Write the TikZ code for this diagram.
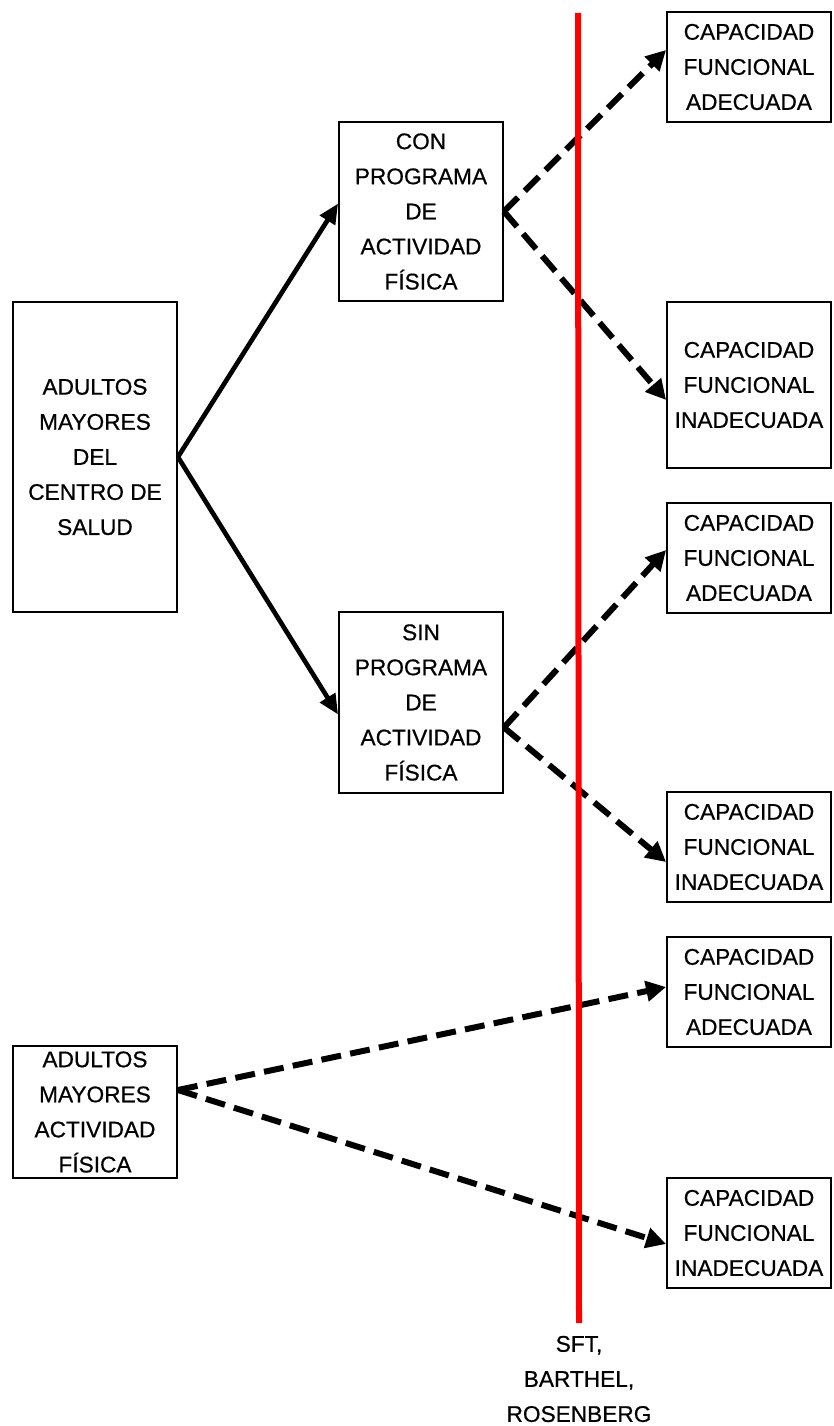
\documentclass[tikz,border=0pt]{standalone}
\usepackage{fontspec}
\setmainfont{Liberation Sans}[FakeBold=0.6]
\usetikzlibrary{arrows.meta,calc}
\begin{document}
\begin{tikzpicture}[x=0.75pt,y=-0.75pt,
  txt/.style={align=center,inner sep=0pt,font=\fontsize{17}{26.3}\selectfont},
  box/.style={txt,draw=black,line width=1.4pt,minimum width=123pt},
  solidarrow/.style={line width=3.5pt,-{Triangle[length=15pt,width=13pt]}},
  dasharrow/.style={line width=4.5pt,dash pattern=on 15pt off 7pt,-{Triangle[length=15pt,width=15pt]}},
  redline/.style={draw=red,line width=4.5pt}]
\useasboundingbox (0,0) rectangle (833,1426);

% left boxes
\node[box,minimum height=232.5pt] (A) at (95,457) {ADULTOS\\MAYORES\\DEL\\CENTRO DE\\SALUD};
\node[box,minimum height=99pt] (B) at (95,1112) {ADULTOS\\MAYORES\\ACTIVIDAD\\FÍSICA};

% middle boxes
\node[box,minimum height=134.25pt] (con) at (421,211.5) {CON\\PROGRAMA\\DE\\ACTIVIDAD\\FÍSICA};
\node[box,minimum height=135.75pt] (sin) at (421,702.5) {SIN\\PROGRAMA\\DE\\ACTIVIDAD\\FÍSICA};

% right boxes
\node[box,minimum height=82.5pt] (r1) at (749,67) {CAPACIDAD\\FUNCIONAL\\ADECUADA};
\node[box,minimum height=124.5pt] (r2) at (749,385) {CAPACIDAD\\FUNCIONAL\\INADECUADA};
\node[box,minimum height=82.5pt] (r3) at (749,558) {CAPACIDAD\\FUNCIONAL\\ADECUADA};
\node[box,minimum height=82.5pt] (r4) at (749,847) {CAPACIDAD\\FUNCIONAL\\INADECUADA};
\node[box,minimum height=82.5pt] (r5) at (749,992) {CAPACIDAD\\FUNCIONAL\\ADECUADA};
\node[box,minimum height=82pt] (r6) at (749,1233) {CAPACIDAD\\FUNCIONAL\\INADECUADA};

% label of the red line
\node[txt] (lab) at (579,1379) {SFT,\\BARTHEL,\\ROSENBERG};

% connectors
\draw[solidarrow] (A.east) -- ($(con.west)+(0,-8)$);
\draw[solidarrow] (A.east) -- ($(sin.west)+(0,12)$);

\draw[dasharrow] (con.east) -- ($(r1.west)+(0,-17)$);
\draw[dasharrow] (con.east) -- ($(r2.west)+(0,15)$);

\draw[dasharrow] ($(sin.east)+(0,25)$) -- ($(r3.west)+(0,-8)$);
\draw[dasharrow] ($(sin.east)+(0,25)$) -- ($(r4.west)+(0,15)$);

\draw[dasharrow] ($(B.east)+(0,-22)$) -- ($(r5.west)+(0,-5)$);
\draw[dasharrow] ($(B.east)+(0,-22)$) -- ($(r6.west)+(0,11)$);

% red line
\coordinate (rtop) at (578,13);
\coordinate (rbot) at (579,1323);
\draw[redline] (rtop) -- (rbot);
\end{tikzpicture}
\end{document}
